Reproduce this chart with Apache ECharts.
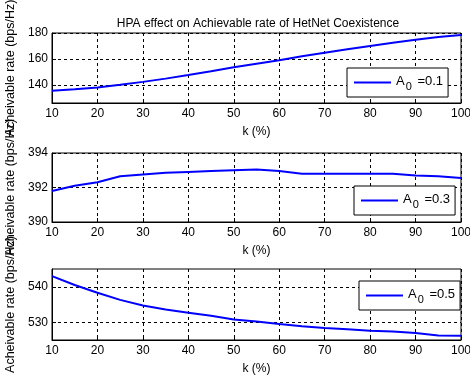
<!DOCTYPE html>
<html>
<head>
<meta charset="UTF-8">
<title>HPA effect</title>
<script src="https://cdn.jsdelivr.net/npm/echarts@6/dist/echarts.min.js"></script>
</head>
<body style="margin:0;background:#fff">
<div id="main" style="width:470px;height:376px"></div>
<script>
// k values (%)
var kVals = [10, 15, 20, 25, 30, 35, 40, 45, 50, 55, 60, 65, 70, 75, 80, 85, 90, 95, 100];
// A0 = 0.1
var rateA01 = [135.5, 136.7, 138, 140, 142.3, 144.8, 147.6, 150.5, 153.5, 156.3, 159, 162, 164.8, 167.5, 170, 172.5, 174.8, 177, 178.5];
// A0 = 0.3
var rateA03 = [391.8, 392.1, 392.3, 392.65, 392.75, 392.85, 392.9, 392.95, 393.0, 393.05, 392.95, 392.8, 392.8, 392.8, 392.8, 392.8, 392.7, 392.65, 392.55];
// A0 = 0.5
var rateA05 = [543, 540.5, 538.3, 536.3, 534.7, 533.6, 532.7, 531.8, 530.8, 530.2, 529.5, 528.9, 528.4, 528.0, 527.6, 527.4, 527.0, 526.3, 526.2];
var legendNames = ['0.1', '0.3', '0.5'];
var yTicks1 = [140, 160, 180];
var yTicks3 = [530, 540];

function pairs(ys) {
    var out = [];
    for (var i = 0; i < kVals.length; i++) out.push([kVals[i], ys[i]]);
    return out;
}

var font = 'Liberation Sans, Arial, sans-serif';
var myChart = echarts.init(document.getElementById('main'));

var grids = [
    {left: 52, right: 9, top: 33, height: 70},
    {left: 52, right: 9, top: 153, height: 69},
    {left: 52, right: 9, top: 269, height: 71}
];
grids.forEach(function (g) {
    g.show = true; g.borderColor = '#000'; g.borderWidth = 1; g.backgroundColor = '#fff';
    g.containLabel = false; g.outerBoundsMode = 'none';
});

function xAx(i) {
    return {
        type: 'value', gridIndex: i, min: 10, max: 100, interval: 10,
        name: 'k (%)', nameLocation: 'middle', nameGap: 23,
        nameTextStyle: {color: '#000', fontSize: 12, fontFamily: font},
        axisLine: {lineStyle: {color: '#000', width: 1}},
        axisTick: {inside: true, length: 4, lineStyle: {color: '#000'}},
        axisLabel: {color: '#000', fontSize: 12, fontFamily: font, margin: 5},
        splitLine: {show: true, lineStyle: {color: '#000', type: [3, 3], width: 1}}
    };
}
function yAx(i, min, max, ticks) {
    return {
        type: 'value', gridIndex: i, min: min, max: max,
        name: 'Acheivable rate (bps/Hz)', nameLocation: 'middle', nameGap: 35,
        nameTextStyle: {color: '#000', fontSize: 12.5, fontFamily: font},
        axisLine: {show: true, lineStyle: {color: '#000', width: 1}},
        axisTick: {inside: true, length: 4, lineStyle: {color: '#000'}, customValues: ticks},
        axisLabel: {color: '#000', fontSize: 12, fontFamily: font, margin: 4, customValues: ticks},
        splitLine: {show: true, lineStyle: {color: '#000', type: [3, 3], width: 1}}
    };
}

var legendRich = {
    a: {fontSize: 13, fontFamily: font, color: '#000', lineHeight: 16, verticalAlign: 'top'},
    s: {fontSize: 11, fontFamily: font, color: '#000', lineHeight: 16, padding: [8, 2, 0, 1]}
};
function legend(name, left, top) {
    return {
        data: [name], left: left, top: top, orient: 'horizontal',
        borderColor: '#000', borderWidth: 1, backgroundColor: '#fff',
        padding: [5, 5, 5, 7], itemWidth: 37, itemHeight: 2, itemGap: 0,
        icon: 'rect',
        textStyle: {rich: legendRich},
        formatter: function (n) { return '{a|A}{s|0}{a| =' + n + '}'; }
    };
}

var option = {
    animation: false,
    title: {
        text: 'HPA effect on Achievable rate of HetNet Coexistence',
        left: 253, top: 13, textAlign: 'center',
        textStyle: {color: '#000', fontSize: 12, fontWeight: 'normal', fontFamily: font}
    },
    grid: grids,
    xAxis: [xAx(0), xAx(1), xAx(2)],
    yAxis: [yAx(0, 126, 180, yTicks1), yAx(1, 390, 394), yAx(2, 525, 545, yTicks3)],
    legend: [legend(legendNames[0], 347, 68), legend(legendNames[1], 354, 186), legend(legendNames[2], 359, 281)],
    series: [
        {name: legendNames[0], type: 'line', xAxisIndex: 0, yAxisIndex: 0, data: pairs(rateA01), symbol: 'none', lineStyle: {color: '#0000ff', width: 2}, itemStyle: {color: '#0000ff'}},
        {name: legendNames[1], type: 'line', xAxisIndex: 1, yAxisIndex: 1, data: pairs(rateA03), symbol: 'none', lineStyle: {color: '#0000ff', width: 2}, itemStyle: {color: '#0000ff'}},
        {name: legendNames[2], type: 'line', xAxisIndex: 2, yAxisIndex: 2, data: pairs(rateA05), symbol: 'none', lineStyle: {color: '#0000ff', width: 2}, itemStyle: {color: '#0000ff'}}
    ]
};
option.yAxis[1].interval = 2;
myChart.setOption(option);
</script>
</body>
</html>
